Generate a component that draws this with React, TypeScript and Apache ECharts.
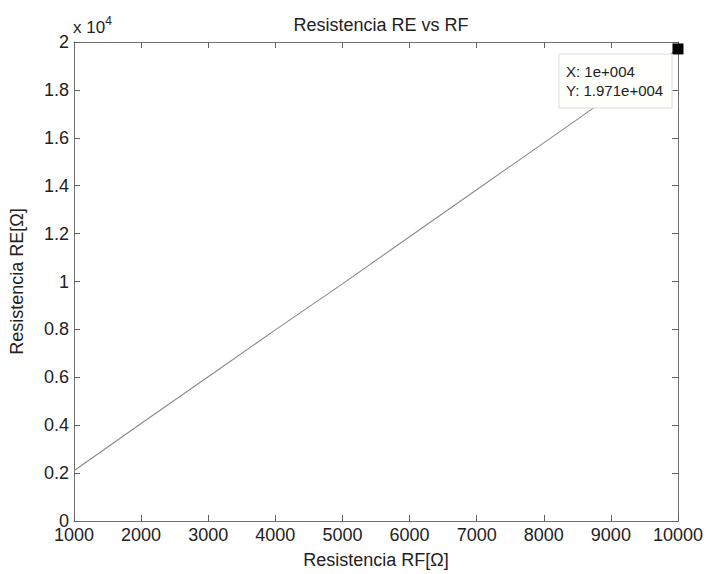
import React, { useEffect, useRef } from "react";
import * as echarts from "echarts";

const rfValues = [1000, 2000, 3000, 4000, 5000, 6000, 7000, 8000, 9000, 10000];
const reValues = [2100, 4070, 6020, 7980, 9900, 11870, 13830, 15790, 17750, 19710];
const tipPoint = [10000, 19710];
const tipLines = ["X: 1e+004", "Y: 1.971e+004"];
const titleText = "Resistencia RE vs RF";
const xLabel = "Resistencia RF[Ω]";
const yLabel = "Resistencia RE[Ω]";

const FONT = "Liberation Sans, Arial, sans-serif";
const AX = "#707070";

function axisBase() {
  return {
    type: "value" as const,
    axisLine: { show: true, onZero: false, lineStyle: { color: AX, width: 1 } },
    axisTick: { show: true, inside: true, length: 6, lineStyle: { color: "#606060", width: 1 } },
    splitLine: { show: false },
  };
}

export default function App() {
  const ref = useRef<HTMLDivElement>(null);
  useEffect(() => {
    document.body.style.margin = "0";
    const chart = echarts.init(ref.current!, undefined, { renderer: "svg" });
    chart.setOption({
      animation: false,
      backgroundColor: "#ffffff",
      title: {
        text: titleText,
        left: 376,
        top: 11,
        textAlign: "center",
        textStyle: { fontFamily: FONT, fontSize: 18, fontWeight: "normal", color: "#222" },
      },
      grid: { left: 73, top: 42, right: 26, bottom: 53 },
      xAxis: [
        {
          ...axisBase(),
          position: "bottom",
          min: 1000,
          max: 10000,
          interval: 1000,
          name: xLabel,
          nameLocation: "middle",
          nameGap: 30,
          nameTextStyle: { fontFamily: FONT, fontSize: 18, color: "#222" },
          axisLabel: {
            fontFamily: FONT,
            fontSize: 18,
            color: "#222",
            margin: 5,
            formatter: (v: number) => String(v),
          },
        },
        {
          ...axisBase(),
          position: "top",
          min: 1000,
          max: 10000,
          interval: 1000,
          axisLabel: { show: false },
        },
      ],
      yAxis: [
        {
          ...axisBase(),
          position: "left",
          min: 0,
          max: 20000,
          interval: 2000,
          name: yLabel,
          nameLocation: "middle",
          nameGap: 48,
          nameTextStyle: { fontFamily: FONT, fontSize: 18, color: "#222" },
          axisLabel: {
            fontFamily: FONT,
            fontSize: 18,
            color: "#222",
            margin: 5,
            formatter: (v: number) => String(Math.round(v / 1000) / 10),
          },
        },
        {
          ...axisBase(),
          position: "right",
          min: 0,
          max: 20000,
          interval: 2000,
          axisLabel: { show: false },
        },
      ],
      series: [
        {
          type: "line",
          data: rfValues.map((x, i) => [x, reValues[i]]),
          showSymbol: false,
          symbol: "none",
          lineStyle: { color: "#8a8a8a", width: 1.1 },
          z: 2,
        },
        {
          type: "scatter",
          data: [tipPoint],
          symbol: "rect",
          symbolSize: 11,
          itemStyle: { color: "#000", borderWidth: 0, opacity: 1 },
          z: 5,
        },
      ],
      graphic: [
        {
          type: "text",
          left: 73,
          top: 15,
          z: 10,
          style: {
            text: "x 10{s|4}",
            font: `17px ${FONT}`,
            fill: "#222",
            rich: { s: { fontSize: 12, fontFamily: FONT, fill: "#222", verticalAlign: "top", padding: [0, 0, 12, 0] } },
          },
        },
        {
          type: "rect",
          z: 20,
          shape: { x: 559, y: 54, width: 113, height: 54 },
          style: { fill: "#fffffb", stroke: "#dcdcdc", lineWidth: 1 },
        },
        {
          type: "text",
          z: 21,
          left: 566,
          top: 62,
          style: {
            text: tipLines.join("\n"),
            font: `15px ${FONT}`,
            lineHeight: 19,
            fill: "#222",
          },
        },
      ],
    });
    return () => chart.dispose();
  }, []);
  return <div ref={ref} style={{ width: 706, height: 574 }} />;
}
